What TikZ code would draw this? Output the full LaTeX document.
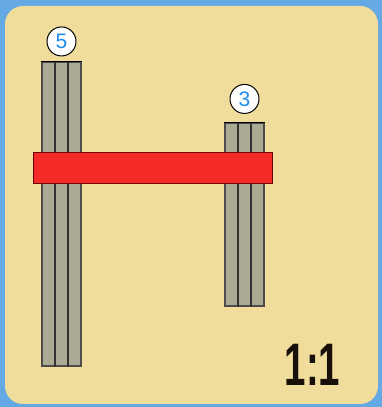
\documentclass[tikz,border=0pt]{standalone}
\usepackage{fontspec}
\setmainfont{Liberation Sans}
\usetikzlibrary{positioning, calc}
\definecolor{frameblue}{RGB}{100,168,228}
\definecolor{cardbeige}{RGB}{240,221,155}
\definecolor{poststone}{RGB}{172,170,148}
\definecolor{barred}{RGB}{245,42,38}
\definecolor{numblue}{RGB}{30,140,240}

\begin{document}
\begin{tikzpicture}[x=1pt, y=1pt,
    post/.style={draw=black!70, line width=1.1pt, fill=poststone, minimum width=39pt, inner sep=0pt},
    badge/.style={circle, draw=black, line width=1pt, fill=white, minimum size=29pt, inner sep=0pt,
      text=numblue, font=\fontsize{21}{21}\selectfont},
    split/.style={black!80, line width=1.4pt}]
  % background and card
  \fill[frameblue] (0,0) rectangle (382,407);
  \useasboundingbox (0,0) rectangle (382,407);
  \fill[cardbeige, rounded corners=18pt] (5,3) rectangle (378,401);

  % posts
  \node[post, minimum height=304pt] (left) at (61.5,193) {};
  \node[post, minimum height=183pt] (right) at (244.5,192.5) {};
  \foreach \p in {left, right} {
    \draw[split] ($(\p.north west)!1/3!(\p.north east)$) -- ($(\p.south west)!1/3!(\p.south east)$);
    \draw[split] ($(\p.north west)!2/3!(\p.north east)$) -- ($(\p.south west)!2/3!(\p.south east)$);
    \draw[black, line width=1.4pt] (\p.north west) -- (\p.north east);
  }

  % cross bar
  \node[draw=red!45!black, line width=1pt, fill=barred, minimum width=239pt, minimum height=31pt,
    inner sep=0pt] (bar) at (152.5,238.5) {};

  % counts
  \node[badge, above=5pt of left] (countleft) {5};
  \node[badge, above=8.5pt of right] (countright) {3};

  % ratio
  \node[anchor=base, xscale=0.64, text=black!88!brown, font=\fontsize{60}{60}\selectfont\bfseries] (ratio) at (312.5,21) {1:1};
\end{tikzpicture}
\end{document}
